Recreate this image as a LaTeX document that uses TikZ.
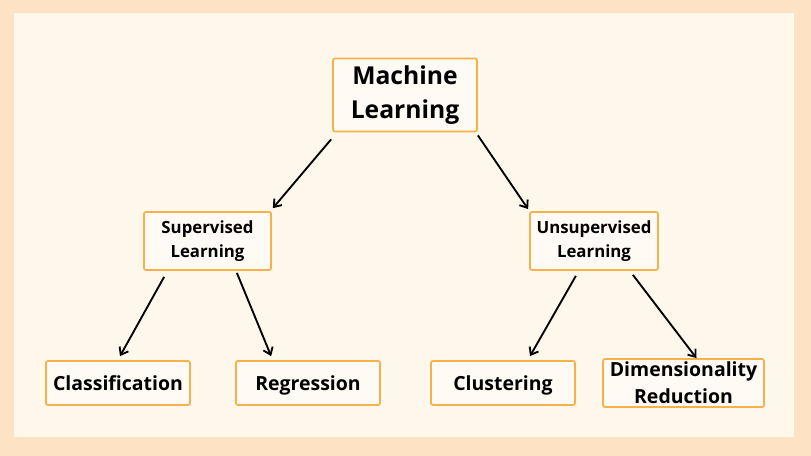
\documentclass[tikz,border=0pt]{standalone}
\usepackage{fontspec}
\setmainfont{Open Sans}
\usetikzlibrary{arrows.meta,calc}
\definecolor{outerbg}{HTML}{FDE3C4}
\definecolor{innerbg}{HTML}{FEF7EC}
\definecolor{boxline}{HTML}{F7B14A}
\definecolor{boxfill}{HTML}{FFFAF3}
\tikzset{
  box/.style={draw=boxline, fill=boxfill, line width=1.3pt, rounded corners=1.5pt,
    align=center, inner sep=0pt},
  conn/.style={-{Straight Barb[length=5pt,width=7.5pt,line width=1.4pt]}, line width=1.4pt, black},
}
\begin{document}
\begin{tikzpicture}[x=0.75pt,y=-0.75pt]
\useasboundingbox (0,0) rectangle (811,456);
\fill[outerbg] (0,0) rectangle (811,456);
\fill[innerbg] (14,13) rectangle (794,437);

\node[box, minimum width=144*0.75pt, minimum height=73*0.75pt,
  font=\fontsize{18.5}{25.5}\selectfont\bfseries] (ml) at (405,95) {Machine\\Learning};
\node[box, minimum width=127*0.75pt, minimum height=58*0.75pt,
  font=\fontsize{12.6}{18}\selectfont\bfseries] (sl) at (207.5,241) {Supervised\\Learning};
\node[box, minimum width=128*0.75pt, minimum height=58*0.75pt,
  font=\fontsize{12.6}{18}\selectfont\bfseries] (ul) at (594,241) {Unsupervised\\Learning};
\node[box, minimum width=144*0.75pt, minimum height=44*0.75pt, text height=10.5pt, text depth=0pt,
  font=\fontsize{14.6}{20}\selectfont\bfseries] (cl) at (118,383) {Classification};
\node[box, minimum width=144*0.75pt, minimum height=44*0.75pt, text height=10.5pt, text depth=0pt,
  font=\fontsize{14.6}{20}\selectfont\bfseries] (rg) at (308,383) {Regression};
\node[box, minimum width=144*0.75pt, minimum height=44*0.75pt, text height=10.5pt, text depth=0pt,
  font=\fontsize{14.6}{20}\selectfont\bfseries] (cu) at (503,383) {Clustering};
\node[box, minimum width=161*0.75pt, minimum height=48*0.75pt,
  font=\fontsize{14.6}{20.3}\selectfont\bfseries] (dr) at (683.5,383) {Dimensionality\\Reduction};

\draw[conn] ($(ml.south west)+(-1,7)$) -- ($(sl.north east)+(1,-3)$);
\draw[conn] ($(ml.south east)+(0,3)$) -- ($(ul.north west)+(-1,-2)$);
\draw[conn] ($(sl.south west)+(21,6)$) -- ($(cl.north)+(2,-4)$);
\draw[conn] ($(sl.south east)+(-35,2)$) -- ($(rg.north west)+(36,-4)$);
\draw[conn] ($(ul.south east)+(-83,5)$) -- ($(cu.north)+(27,-4)$);
\draw[conn] ($(ul.south east)+(-26,4)$) -- ($(dr.north)+(13,0)$);
\end{tikzpicture}
\end{document}
